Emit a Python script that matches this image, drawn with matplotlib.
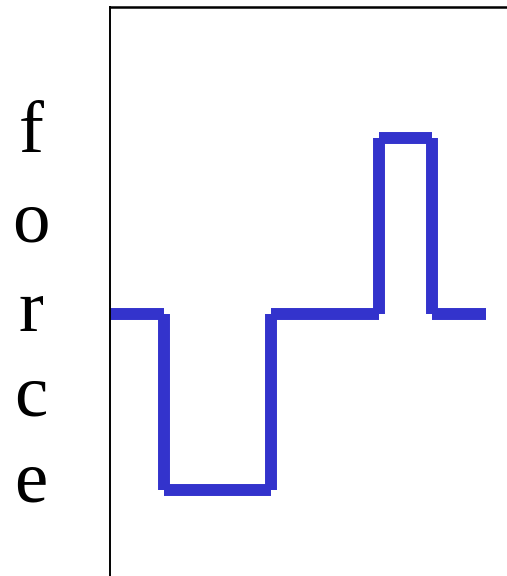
import matplotlib
matplotlib.use("Agg")
import matplotlib.pyplot as plt

# Data: step-wise force over time
times = [0, 1, 3, 5, 6, 7]          # breakpoints
force = [0, -1, 0, 1, 0]            # level on each interval
label_letters = list("force")

W, H, DPI = 507, 576, 100
fig = plt.figure(figsize=(W / DPI, H / DPI), dpi=DPI)
fig.patch.set_facecolor("white")

# axes: left spine at x=110 px, top spine at y=7 px
ax_left = 110 / W
ax_top = 1 - 7 / H
ax = fig.add_axes([ax_left, 0, 1 - ax_left, ax_top])

color = "#3333cc"
lw = 8.6
for i, f in enumerate(force):
    ax.plot([times[i], times[i + 1]], [f, f], color=color, lw=lw,
            solid_capstyle="butt")
    if i + 1 < len(force):
        ax.plot([times[i + 1], times[i + 1]], [f, force[i + 1]], color=color,
                lw=lw, solid_capstyle="butt")

unit_x = 53.7
ax.set_xlim(0, (W - 110) / unit_x)
unit_y = 176.0
ax.set_ylim(-(H - 314) / unit_y, (314 - 7) / unit_y)

ax.set_xticks([])
ax.set_yticks([])
for s in ["right", "bottom"]:
    ax.spines[s].set_visible(False)
ax.spines["left"].set_linewidth(1.4)
ax.spines["top"].set_linewidth(1.8)
for s in ["left", "top"]:
    ax.spines[s].set_color("black")

# vertical "force" label, one letter per line
baselines = [152, 241, 331, 416, 502]
for letter, b in zip(label_letters, baselines):
    fig.text(31 / W, 1 - b / H, letter, ha="center", va="baseline",
             fontsize=54, family="Liberation Serif", color="black")

fig.savefig("out.png", dpi=DPI)
